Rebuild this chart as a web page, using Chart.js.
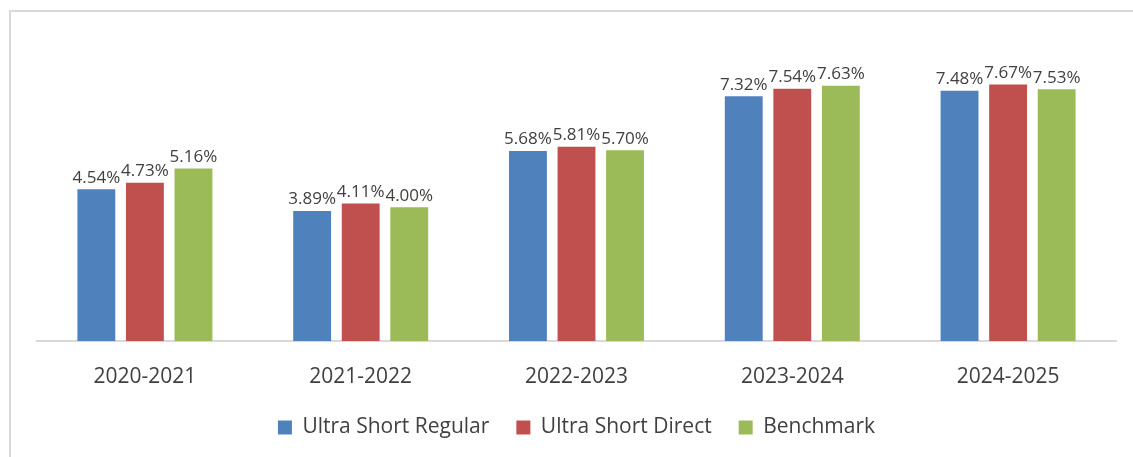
<!DOCTYPE html>
<html>
<head>
<meta charset="utf-8">
<script src="https://cdn.jsdelivr.net/npm/chart.js@4"></script>
<style>
  body { margin: 0; background: #fff; }
  #wrap { position: relative; width: 1133px; height: 457px; overflow: hidden; }
  #frame { position: absolute; left: 9px; top: 10px; width: 1140px; height: 470px;
           border: 2px solid #d9d9d9; box-sizing: border-box; }
  canvas { position: absolute; left: 0; top: 0; }
</style>
</head>
<body>
<div id="wrap">
  <div id="frame"></div>
  <canvas id="chart" width="1133" height="457"></canvas>
</div>
<script>
// data
const years = ['2020-2021', '2021-2022', '2022-2023', '2023-2024', '2024-2025'];
const ultraShortRegular = [4.54, 3.89, 5.68, 7.32, 7.48];
const ultraShortDirect = [4.73, 4.11, 5.81, 7.54, 7.67];
const benchmark = [5.16, 4.00, 5.70, 7.63, 7.53];

const fontFamily = '"Open Sans", sans-serif';

// draw the value above each bar
const valueLabels = {
    id: 'valueLabels',
    afterDatasetsDraw(chart) {
        const ctx = chart.ctx;
        ctx.save();
        ctx.font = '17px ' + fontFamily;
        ctx.fillStyle = '#404040';
        ctx.textAlign = 'center';
        ctx.textBaseline = 'bottom';
        chart.data.datasets.forEach((ds, i) => {
            chart.getDatasetMeta(i).data.forEach((bar, j) => {
                ctx.fillText(ds.data[j].toFixed(2) + '%', bar.x, bar.y - 3);
            });
        });
        ctx.restore();
    }
};

// fix the legend's height so the axis sits where it should
const legendHeight = {
    id: 'legendHeight',
    beforeInit(chart) {
        const fit = chart.legend.fit;
        chart.legend.fit = function () {
            fit.call(this);
            this.height = 67;
        };
    }
};

new Chart(document.getElementById('chart'), {
    type: 'bar',
    data: {
        labels: years,
        datasets: [
            { label: 'Ultra Short Regular', data: ultraShortRegular, backgroundColor: '#4f81bd' },
            { label: 'Ultra Short Direct', data: ultraShortDirect, backgroundColor: '#c0504d' },
            { label: 'Benchmark', data: benchmark, backgroundColor: '#9bbb59' }
        ]
    },
    options: {
        responsive: false,
        animation: false,
        categoryPercentage: 0.675,
        barPercentage: 0.78,
        layout: { padding: { left: 37, right: 17, top: 40, bottom: 0 } },
        plugins: {
            tooltip: { enabled: false },
            legend: {
                position: 'bottom',
                labels: {
                    boxWidth: 14,
                    boxHeight: 14,
                    padding: 27,
                    color: '#404040',
                    font: { family: fontFamily, size: 21 }
                }
            }
        },
        scales: {
            x: {
                grid: { display: false, drawTicks: false },
                border: { color: '#d9d9d9', width: 2 },
                ticks: { color: '#404040', padding: 23, font: { family: fontFamily, size: 21 } },
                afterFit(scale) { scale.height = 49; }
            },
            y: {
                display: false,
                min: 0,
                max: 9
            }
        }
    },
    plugins: [valueLabels, legendHeight]
});
</script>
</body>
</html>
